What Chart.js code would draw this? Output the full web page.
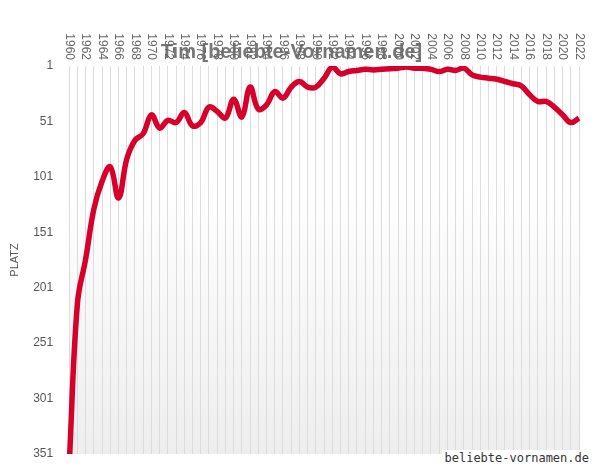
<!DOCTYPE html><html><head><meta charset="utf-8">
<script src="https://cdn.jsdelivr.net/npm/chart.js@4"></script>
<style>body{margin:0;background:#fff}#w{position:relative;width:598px;height:470px}
#wm{position:absolute;right:6px;bottom:4px;font:12px "DejaVu Sans Mono",monospace;color:#333;background:#fff;padding:1px 3px}</style>
</head><body><div id="w"><canvas id="c" width="598" height="470"></canvas><div id="wm">beliebte-vornamen.de</div></div>
<script>
const years=[];for(let y=1960;y<=2022;y++)years.push(String(y));
const ranks=[360,215,175,130,105,92,120,85,68,62,45,57,50,52,43,55,52,38,42,48,31,47,20,40,36,24,30,20,15,20,20,12,2,8,6,5,4,4.5,4,3.5,3,2,3,3,4,6,4,5,3,9,11,12,13,15,17,19,27,33,33,38,45,52,48];
const yTicks=[1,51,101,151,201,251,301,351];
const FONT='"Liberation Sans Narrow","Liberation Sans",sans-serif';
const bg={id:'bg',beforeDraw(ch){const a=ch.chartArea,c=ch.ctx;const g=c.createLinearGradient(0,a.top,0,a.bottom);g.addColorStop(0,'#ffffff');g.addColorStop(0.3,'#ffffff');g.addColorStop(1,'#eeeeee');c.save();c.fillStyle=g;c.fillRect(a.left,a.top,a.right-a.left,a.bottom-a.top);c.restore();},
afterDraw(ch){const a=ch.chartArea,c=ch.ctx,sx=ch.scales.x;c.save();c.fillStyle='#666';c.font='12px '+FONT;c.textAlign='right';c.textBaseline='middle';
years.forEach((y,i)=>{if(i%2)return;c.save();c.translate(sx.getPixelForValue(i),a.top-6);c.rotate(Math.PI/2);c.fillText(y,0,0);c.restore();});c.restore();}};
new Chart(document.getElementById('c'),{type:'line',plugins:[bg],
data:{labels:years,datasets:[{data:ranks,borderColor:'#d6002a',borderWidth:5.5,pointRadius:0,tension:0.4,fill:false}]},
options:{responsive:false,animation:false,layout:{padding:{left:4,right:19,top:34,bottom:16}},
plugins:{legend:{display:false},tooltip:{enabled:false},title:{display:true,text:'Tim [beliebte-Vornamen.de]',color:'#777',font:{family:FONT,size:20,weight:'bold'},padding:{top:6,bottom:2}}},
scales:{x:{position:'top',offset:false,grid:{color:'#dcdcdc',drawTicks:false},border:{display:false},ticks:{display:false}},
y:{reverse:true,min:1,max:351,afterBuildTicks:s=>{s.ticks=yTicks.map(v=>({value:v}))},grid:{display:false},border:{display:false},
title:{display:true,text:'PLATZ',color:'#555',font:{family:FONT,size:11}},
ticks:{color:'#555',padding:8,font:{family:FONT,size:12}}}}}});
</script></body></html>
